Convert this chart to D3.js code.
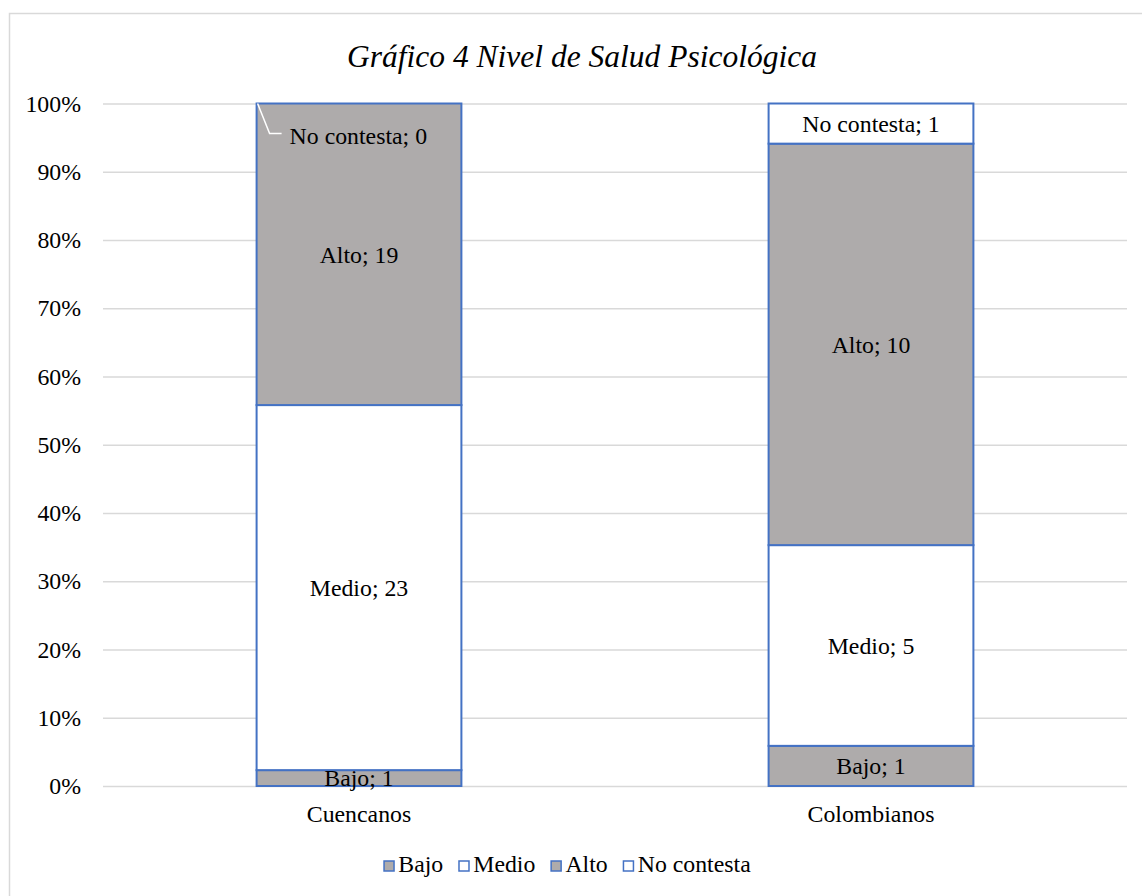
<!DOCTYPE html>
<html>
<head>
<meta charset="utf-8">
<script src="https://cdn.jsdelivr.net/npm/d3@7"></script>
<style>
  body { margin: 0; background: #fff; }
  text { font-family: "Liberation Serif", "Times New Roman", serif; fill: #000; }
</style>
</head>
<body>
<div id="chart"></div>
<script>
//////////////////////////////// data ////////////////////////////////
var categories = ["Cuencanos", "Colombianos"];
var seriesNames = ["Bajo", "Medio", "Alto", "No contesta"];
var bajo = [1, 1];
var medio = [23, 5];
var alto = [19, 10];
var noContesta = [0, 1];
var yTicks = [0, 0.1, 0.2, 0.3, 0.4, 0.5, 0.6, 0.7, 0.8, 0.9, 1];
var titleText = "Gráfico 4 Nivel de Salud Psicológica";

//////////////////////////////// layout ////////////////////////////////
var wdim = 1142, hdim = 896;
var plot = {left: 103, right: 1127, top: 103.5, bottom: 786};
var grey = "#aeabab", blue = "#4472c4";
var fills = {"Bajo": grey, "Medio": "#ffffff", "Alto": grey, "No contesta": "#ffffff"};
var fs = "23.8px";

var svg = d3.select("#chart").append("svg")
  .attr("width", wdim)
  .attr("height", hdim);

// chart area border
svg.append("rect")
  .attr("x", 9.5).attr("y", 13.5)
  .attr("width", 1160).attr("height", 900)
  .attr("fill", "#fff")
  .attr("stroke", "#d9d9d9")
  .attr("stroke-width", 1.5);

svg.append("text")
  .attr("x", 582).attr("y", 67)
  .attr("text-anchor", "middle")
  .style("font-size", "31.5px")
  .style("font-style", "italic")
  .text(titleText);

var x = d3.scaleBand().domain(categories).range([plot.left, plot.right]).paddingInner(0.6).paddingOuter(0.3);
var y = d3.scaleLinear().domain([0, 1]).range([plot.bottom, plot.top]);

// gridlines + y labels
var yAxis = d3.axisLeft(y).tickValues(yTicks).tickSize(-(plot.right - plot.left)).tickFormat(d3.format(".0%")).tickPadding(22);
var gy = svg.append("g").attr("transform", "translate(" + plot.left + ",0)").call(yAxis);
gy.select(".domain").remove();
gy.selectAll(".tick line").attr("stroke", "#d9d9d9").attr("stroke-width", 1.3);
gy.selectAll(".tick text").style("font-size", fs).style("font-family", "Liberation Serif").attr("fill", "#000");

// stacked data
var rows = categories.map(function(c, i){
  return {cat: c, "Bajo": bajo[i], "Medio": medio[i], "Alto": alto[i], "No contesta": noContesta[i]};
});
var stacked = d3.stack().keys(seriesNames).offset(d3.stackOffsetExpand)(rows);

var segs = svg.append("g");
stacked.forEach(function(layer){
  layer.forEach(function(d){
    var val = d.data[layer.key];
    if (val === 0) return;
    segs.append("rect")
      .attr("x", x(d.data.cat))
      .attr("width", x.bandwidth())
      .attr("y", y(d[1]))
      .attr("height", y(d[0]) - y(d[1]))
      .attr("fill", fills[layer.key])
      .attr("stroke", blue)
      .attr("stroke-width", 2);
  });
});

// labels
var labels = svg.append("g");
stacked.forEach(function(layer){
  layer.forEach(function(d){
    var val = d.data[layer.key];
    var cx = x(d.data.cat) + x.bandwidth() / 2;
    var cy = (y(d[0]) + y(d[1])) / 2;
    if (val === 0) {
      // zero-height label moved down with a leader line
      var lx = x(d.data.cat) + 33, ly = y(d[1]) + 32;
      labels.append("path")
        .attr("d", "M" + (x(d.data.cat) + 1) + "," + y(d[1]) + " L" + (lx - 20) + "," + (ly - 2) + " L" + (lx - 8) + "," + (ly - 2))
        .attr("fill", "none").attr("stroke", "#fff").attr("stroke-width", 1.5);
      labels.append("text")
        .attr("x", lx).attr("y", ly).attr("dy", "0.35em")
        .style("font-size", fs)
        .text(layer.key + "; " + val);
      return;
    }
    labels.append("text")
      .attr("x", cx).attr("y", cy).attr("dy", "0.35em")
      .attr("text-anchor", "middle")
      .style("font-size", fs)
      .text(layer.key + "; " + val);
  });
});

// category labels
svg.append("g").selectAll("text").data(categories).enter().append("text")
  .attr("x", function(d){ return x(d) + x.bandwidth() / 2; })
  .attr("y", 822)
  .attr("text-anchor", "middle")
  .style("font-size", fs)
  .text(function(d){ return d; });

// legend
var leg = svg.append("g");
var lx = 0, gap = 15;
seriesNames.forEach(function(s){
  var g = leg.append("g").attr("transform", "translate(" + lx + ",0)");
  g.append("rect").attr("x", 0.75).attr("y", -11).attr("width", 10).attr("height", 10)
    .attr("fill", fills[s]).attr("stroke", blue).attr("stroke-width", 1.5);
  var t = g.append("text").attr("x", 15).attr("y", 0).style("font-size", fs).text(s);
  lx += 15 + t.node().getComputedTextLength() + gap;
});
var legW = lx - gap;
leg.attr("transform", "translate(" + (567 - legW / 2) + ",872)");
</script>
</body>
</html>
